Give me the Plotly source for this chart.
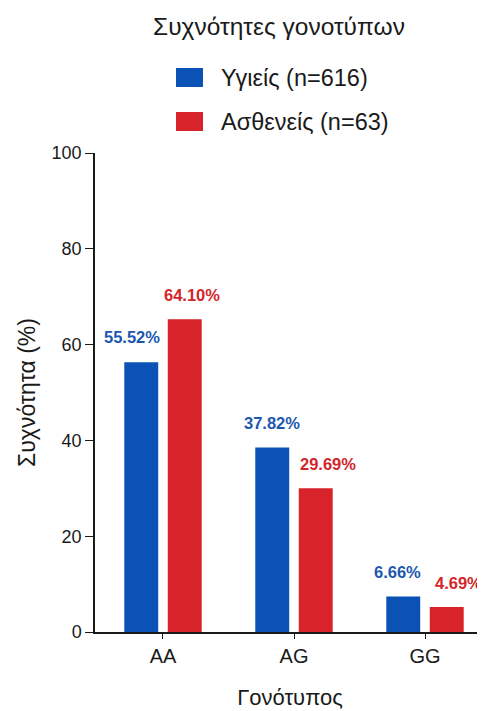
import plotly.graph_objects as go

# ---- data ----
genotypes = ["AA", "AG", "GG"]
healthy_vals = [56.3, 38.5, 7.4]
patient_vals = [65.3, 30.0, 5.2]
healthy_labels = ["55.52%", "37.82%", "6.66%"]
patient_labels = ["64.10%", "29.69%", "4.69%"]
series_names = ["Υγιείς (n=616)", "Ασθενείς (n=63)"]

BLUE = "#0a52b5"
RED = "#d8232a"
BLUE_TXT = "#1c57b0"
RED_TXT = "#d3262b"
FONT = "Liberation Sans, Arial, sans-serif"

# page body has an 8px margin; compensate so the plot sits where the reference does
OFF = 8
W, H = 485 - OFF, 711 - OFF
ML, MR, MT, MB = 87, 0, 145, 79
PW, PH = W - ML - MR, H - MT - MB


def px(x):  # page x -> paper x
    return (x - OFF - ML) / PW


def py(y):  # page y -> paper y
    return (OFF + H - MB - y) / PH


fig = go.Figure()
fig.add_trace(go.Bar(x=genotypes, y=healthy_vals, name=series_names[0],
                     marker=dict(color=BLUE, line=dict(width=0))))
fig.add_trace(go.Bar(x=genotypes, y=patient_vals, name=series_names[1],
                     marker=dict(color=RED, line=dict(width=0))))

annotations = []
blue_shift = [-31, -22, -28]
red_shift = [29, 34, 33]
for i, g in enumerate(genotypes):
    annotations.append(dict(x=g, y=healthy_vals[i], xref="x", yref="y",
                            text=healthy_labels[i], showarrow=False,
                            xshift=blue_shift[i], yshift=25,
                            font=dict(family=FONT, size=16.5, color=BLUE_TXT, weight="bold")))
    annotations.append(dict(x=g, y=patient_vals[i], xref="x", yref="y",
                            text=patient_labels[i], showarrow=False,
                            xshift=red_shift[i], yshift=24,
                            font=dict(family=FONT, size=16.5, color=RED_TXT, weight="bold")))

# manual legend
shapes = []
for row, (name, col) in enumerate(zip(series_names, [BLUE, RED])):
    yc = 78 + row * 44
    shapes.append(dict(type="rect", xref="paper", yref="paper",
                       x0=px(176), x1=px(203), y0=py(yc + 9), y1=py(yc - 10),
                       fillcolor=col, line=dict(width=0)))
    annotations.append(dict(x=px(219), y=py(yc), xref="paper", yref="paper",
                            xanchor="left", yanchor="middle", text=name,
                            showarrow=False,
                            font=dict(family=FONT, size=23.5, color="#1a1a1a")))

fig.update_layout(
    width=W, height=H,
    margin=dict(l=ML, r=MR, t=MT, b=MB),
    paper_bgcolor="white", plot_bgcolor="white",
    barmode="group", bargap=0.336, bargroupgap=0.22,
    showlegend=False,
    title=dict(text="Συχνότητες γονοτύπων", x=(279 - OFF) / W, xanchor="center",
               y=1 - (26 - OFF) / H, yanchor="middle",
               font=dict(family=FONT, size=24.5, color="#1a1a1a")),
    font=dict(family=FONT, color="#1a1a1a"),
    annotations=annotations,
    shapes=shapes,
)
fig.update_xaxes(range=[-0.519, 2.458], showline=True, linecolor="#1a1a1a",
                 linewidth=1.5, ticks="outside", ticklen=5, tickwidth=1.2,
                 tickcolor="#1a1a1a", tickfont=dict(size=20, family=FONT),
                 showgrid=False, zeroline=False,
                 title=dict(text="Γονότυπος", font=dict(size=22, family=FONT),
                            standoff=24))
fig.update_yaxes(range=[0, 100], tickvals=[0, 20, 40, 60, 80, 100],
                 showline=True, linecolor="#1a1a1a", linewidth=1.5,
                 ticks="outside", ticklen=8, tickwidth=1.2, tickcolor="#1a1a1a",
                 tickfont=dict(size=18, family=FONT), showgrid=False,
                 zeroline=False,
                 title=dict(text="Συχνότητα (%)", font=dict(size=23, family=FONT),
                            standoff=10))

fig.write_html("out.html")
